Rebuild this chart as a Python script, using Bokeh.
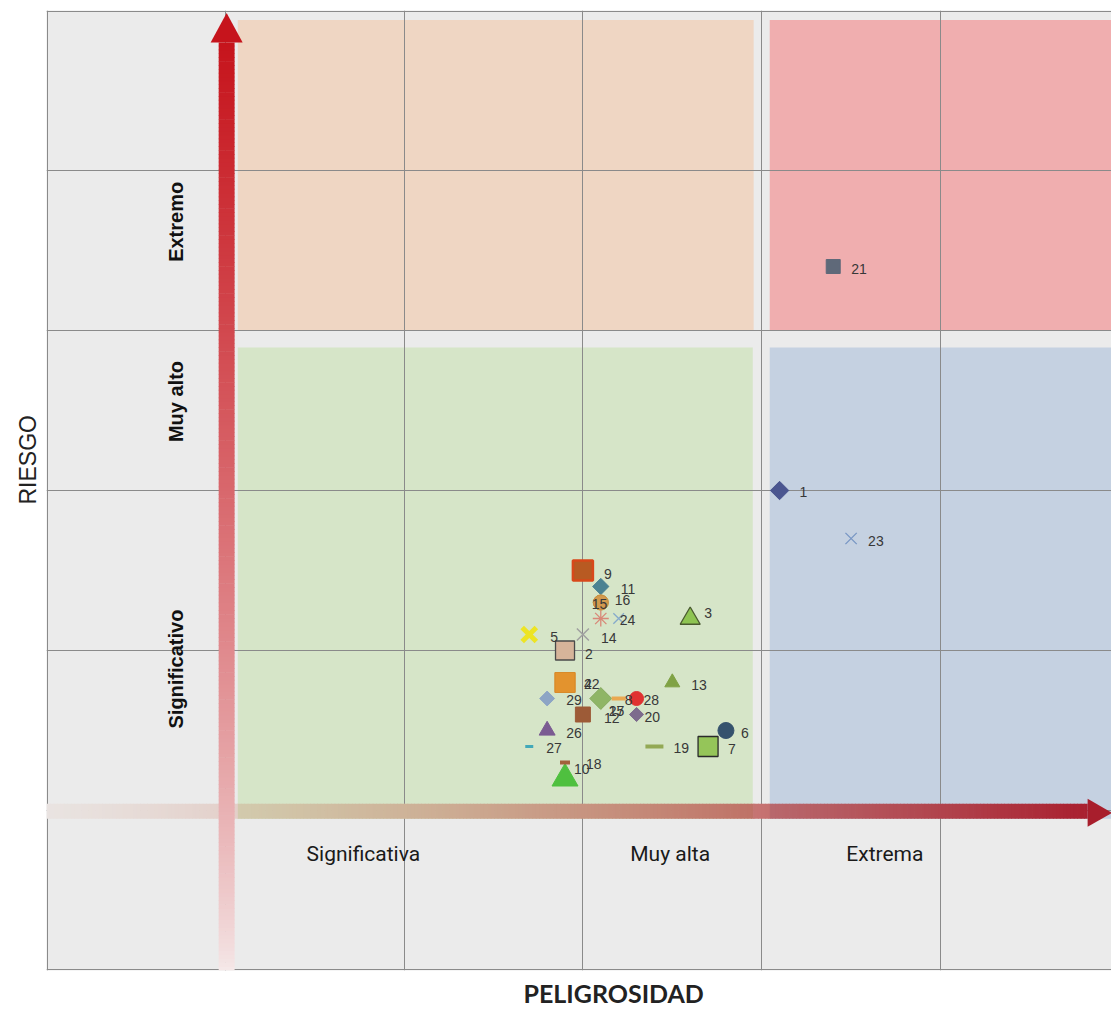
import math
from bokeh.plotting import figure
from bokeh.models import FixedTicker, ColumnDataSource, Title
from bokeh.core.properties import value
from bokeh.embed import file_html
from bokeh.resources import INLINE

# ---------------- data ----------------
ids = [str(i) for i in range(1, 30)]
peligrosidad = [4.1, 2.9, 3.6, 2.9, 2.7, 3.8, 3.7, 3.1, 3.0, 2.9,
                3.1, 3.0, 3.5, 3.0, 3.1, 3.1, 3.2, 2.9, 3.4, 3.3,
                4.4, 2.9, 4.5, 3.1, 3.2, 2.8, 2.7, 3.3, 2.8]
riesgo = [3.0, 2.0, 2.2, 1.8, 2.1, 1.5, 1.4, 1.7, 2.5, 1.2,
          2.4, 1.6, 1.8, 2.1, 2.3, 2.3, 1.7, 1.3, 1.4, 1.6,
          4.4, 1.8, 2.7, 2.2, 2.2, 1.5, 1.4, 1.7, 1.7]

x_categories = ["Significativa", "Muy alta", "Extrema"]
y_categories = ["Significativo", "Muy alto", "Extremo"]
x_title = "PELIGROSIDAD"
y_title = "RIESGO"

# ---------------- styles ----------------
markers = ["diamond", "square", "triangle", "square", "x", "circle", "square", "diamond", "square", "triangle",
           "diamond", "square", "triangle", "x", "circle", "circle", "dash", "dash", "dash", "diamond",
           "square", "square", "x", "asterisk", "x", "triangle", "dash", "circle", "diamond"]
fills = ["#4B5690", "#D6B49A", "#8EC452", "#E3932E", "#F2EA2A", "#35526D", "#95C559", "#8FB566", "#B85A22", "#4FC03F",
         "#4B8292", "#9D5B37", "#80A245", "#A0A0A0", "#D29A4E", "#D29A4E", "#EAA850", "#A2623C", "#93A955", "#7D6B8D",
         "#5F6979", "#E3932E", "#7896C4", "#D88878", "#86AACB", "#7B5B92", "#43A9B9", "#E03232", "#8DA5C5"]
lines = ["#4B5690", "#4A4A4A", "#4A5A30", "#D88A2A", "#EDE425", "#35526D", "#2A2A2A", "#86AA5E", "#D8481A", "#4FC03F",
         "#4B8292", "#9D5B37", "#80A245", "#A0A0A0", "#C89040", "#C89040", "#EAA850", "#A2623C", "#93A955", "#7D6B8D",
         "#5F6979", "#D88A2A", "#7896C4", "#D88878", "#86AACB", "#7B5B92", "#43A9B9", "#E03232", "#8DA5C5"]
sizes = [13, 19, 20, 20, 20, 16, 20, 15.5, 20, 26,
         11.5, 15, 15, 17, 15, 15, 14, 10, 18, 10,
         14, 20, 16, 16, 15, 16, 8, 14, 10.5]
lwidths = [1, 1.3, 1.3, 1, 5, 1, 1.3, 1, 2.5, 1,
           1, 1, 1, 1.5, 1, 1, 4, 4, 4, 1,
           1, 1, 1.3, 1.3, 1.3, 1, 3, 1, 1]
label_dx = [20, 20, 14, 19, 21, 15, 20, 24, 21, 9,
            20, 21, 19, 18, -9, 14, -10, 21, 19, 8,
            18, 19, 17, 19, -10, 19, 17, 7, 19]
label_dy = [1, 3, -6, 1, 2, 2, 2, 1, 3, -10,
            2, 3, 2, 3, 1, -3, 12, 1, 1, 2,
            2, 1, 2, 1, 92, 2, 1, 1, 1]

# diamonds are drawn as squares turned by 45 degrees
draw_markers = ["square" if m == "diamond" else m for m in markers]
angles = [math.pi / 4 if m == "diamond" else 0.0 for m in markers]

# layout constants
W, H = 1111, 1012
FL, FT, FB = 46, 10, 40           # frame borders in px
XMAX = (W - FL) / 178.8
YMAX = 6.0

p = figure(width=W, height=H, x_range=(0, XMAX), y_range=(0, YMAX),
           output_backend="svg", toolbar_location=None,
           min_border_left=FL, min_border_right=0, min_border_top=FT, min_border_bottom=FB)
p.xaxis.visible = False
p.yaxis.visible = False
p.background_fill_color = "#EBEBEB"
p.border_fill_color = "white"
p.outline_line_color = None
# grid lines, with the left/top/bottom frame edges drawn just inside the frame
p.xgrid.ticker = FixedTicker(ticks=[0.004, 1, 2, 3, 4, 5])
p.ygrid.ticker = FixedTicker(ticks=[0.004, 1, 2, 3, 4, 5, 5.996])
p.grid.grid_line_color = "#8A8A8A"
p.grid.grid_line_alpha = 1.0
p.grid.grid_line_width = 1

# zones (drawn under the grid)
zone_l = [1.07, 4.045, 1.07, 4.045]
zone_r = [3.955, 6.2, 3.95, 6.2]
zone_b = [4.0, 4.0, 0.948, 0.948]
zone_t = [5.94, 5.94, 3.893, 3.893]
zone_c = ["#EFD6C3", "#F0AEAF", "#D6E5C8", "#C5D1E1"]
p.quad(left=zone_l, right=zone_r, bottom=zone_b, top=zone_t, fill_color=zone_c,
       line_color=None, level="image")


def lerp(a, b, t):
    return tuple(a[i] + (b[i] - a[i]) * t for i in range(3))


def hx(c):
    return "#%02x%02x%02x" % tuple(max(0, min(255, int(round(v)))) for v in c)


GRAY = (235, 235, 235)
GREEN = (214, 229, 200)
BLUE = (197, 209, 225)


def bg_at(x):
    if 1.07 <= x < 3.952:
        return GREEN
    if x >= 4.045:
        return BLUE
    return GRAY


# horizontal arrow (gradient)
HX_END = 5.823
HB, HT = 0.948, 1.042
edges = [HX_END * i / 300 for i in range(301)] + [1.07, 3.952, 4.045]
edges = sorted(set(edges))
hl, hr, hc = [], [], []
for i in range(len(edges) - 1):
    a, b = edges[i], edges[i + 1]
    m = (a + b) / 2
    t = m / HX_END
    col = lerp((200, 110, 70), (168, 24, 40), t)
    alpha = 0.06 + 0.9 * t ** 1.1
    hl.append(a)
    hr.append(min(b + 0.004, HX_END))
    hc.append(hx(lerp(bg_at(m), col, alpha)))
p.quad(left=hl, right=hr, bottom=HB, top=HT, fill_color=hc, line_color=None)
p.patch([HX_END, HX_END, 5.96], [0.898, 1.073, 0.9855], fill_color="#A81E2C", line_color=None)

# vertical arrow (gradient)
VY_END = 5.80
VL, VR = 0.963, 1.052
vb, vt, vc = [], [], []
NV = 240
for i in range(NV):
    a = VY_END * i / NV
    b = VY_END * (i + 1) / NV
    t = (a + b) / 2 / VY_END
    vb.append(a)
    vt.append(min(b + 0.004, VY_END))
    vc.append(hx(lerp((245, 234, 234), (198, 20, 28), t ** 0.75)))
p.quad(left=VL, right=VR, bottom=vb, top=vt, fill_color=vc, line_color=None)
p.patch([0.918, 1.097, 1.0075], [VY_END, VY_END, 5.985], fill_color="#C6141C", line_color=None)

# category labels
p.text(x=[1.772, 3.488, 4.689], y=[0.73] * 3, text=x_categories,
       text_font=value("Roboto"), text_font_size="21px",
       text_color="#1A1A1A", text_align="center", text_baseline="middle")
p.text(x=[0.722] * 3, y=[1.884, 3.556, 4.679], text=y_categories, angle=math.pi / 2,
       text_font=value("Liberation Sans"), text_font_size="20px", text_font_style="bold",
       text_color="#111111", text_align="center", text_baseline="middle")

# points
src = ColumnDataSource(dict(x=peligrosidad, y=riesgo, label=ids, marker=draw_markers,
                            angle=angles, fill=fills, line=lines, size=sizes, lw=lwidths,
                            dx=label_dx, dy=label_dy))
p.scatter(x="x", y="y", marker="marker", size="size", angle="angle", fill_color="fill",
          line_color="line", line_width="lw", source=src)
p.text(x="x", y="y", text="label", x_offset="dx", y_offset="dy", source=src,
       text_font=value("Liberation Sans"), text_font_size="14px", text_color="#383838",
       text_align="left", text_baseline="middle")

# axis titles
p.add_layout(Title(text=y_title, align="left", offset=466, standoff=11,
                   text_font="Liberation Sans", text_font_size="23px", text_font_style="normal",
                   text_color="#222222"), "left")
p.add_layout(Title(text=x_title, align="left", offset=477, standoff=10,
                   text_font="Lato", text_font_size="25px", text_font_style="bold",
                   text_color="#222222"), "below")

open("out.html", "w").write(file_html(p, INLINE))
